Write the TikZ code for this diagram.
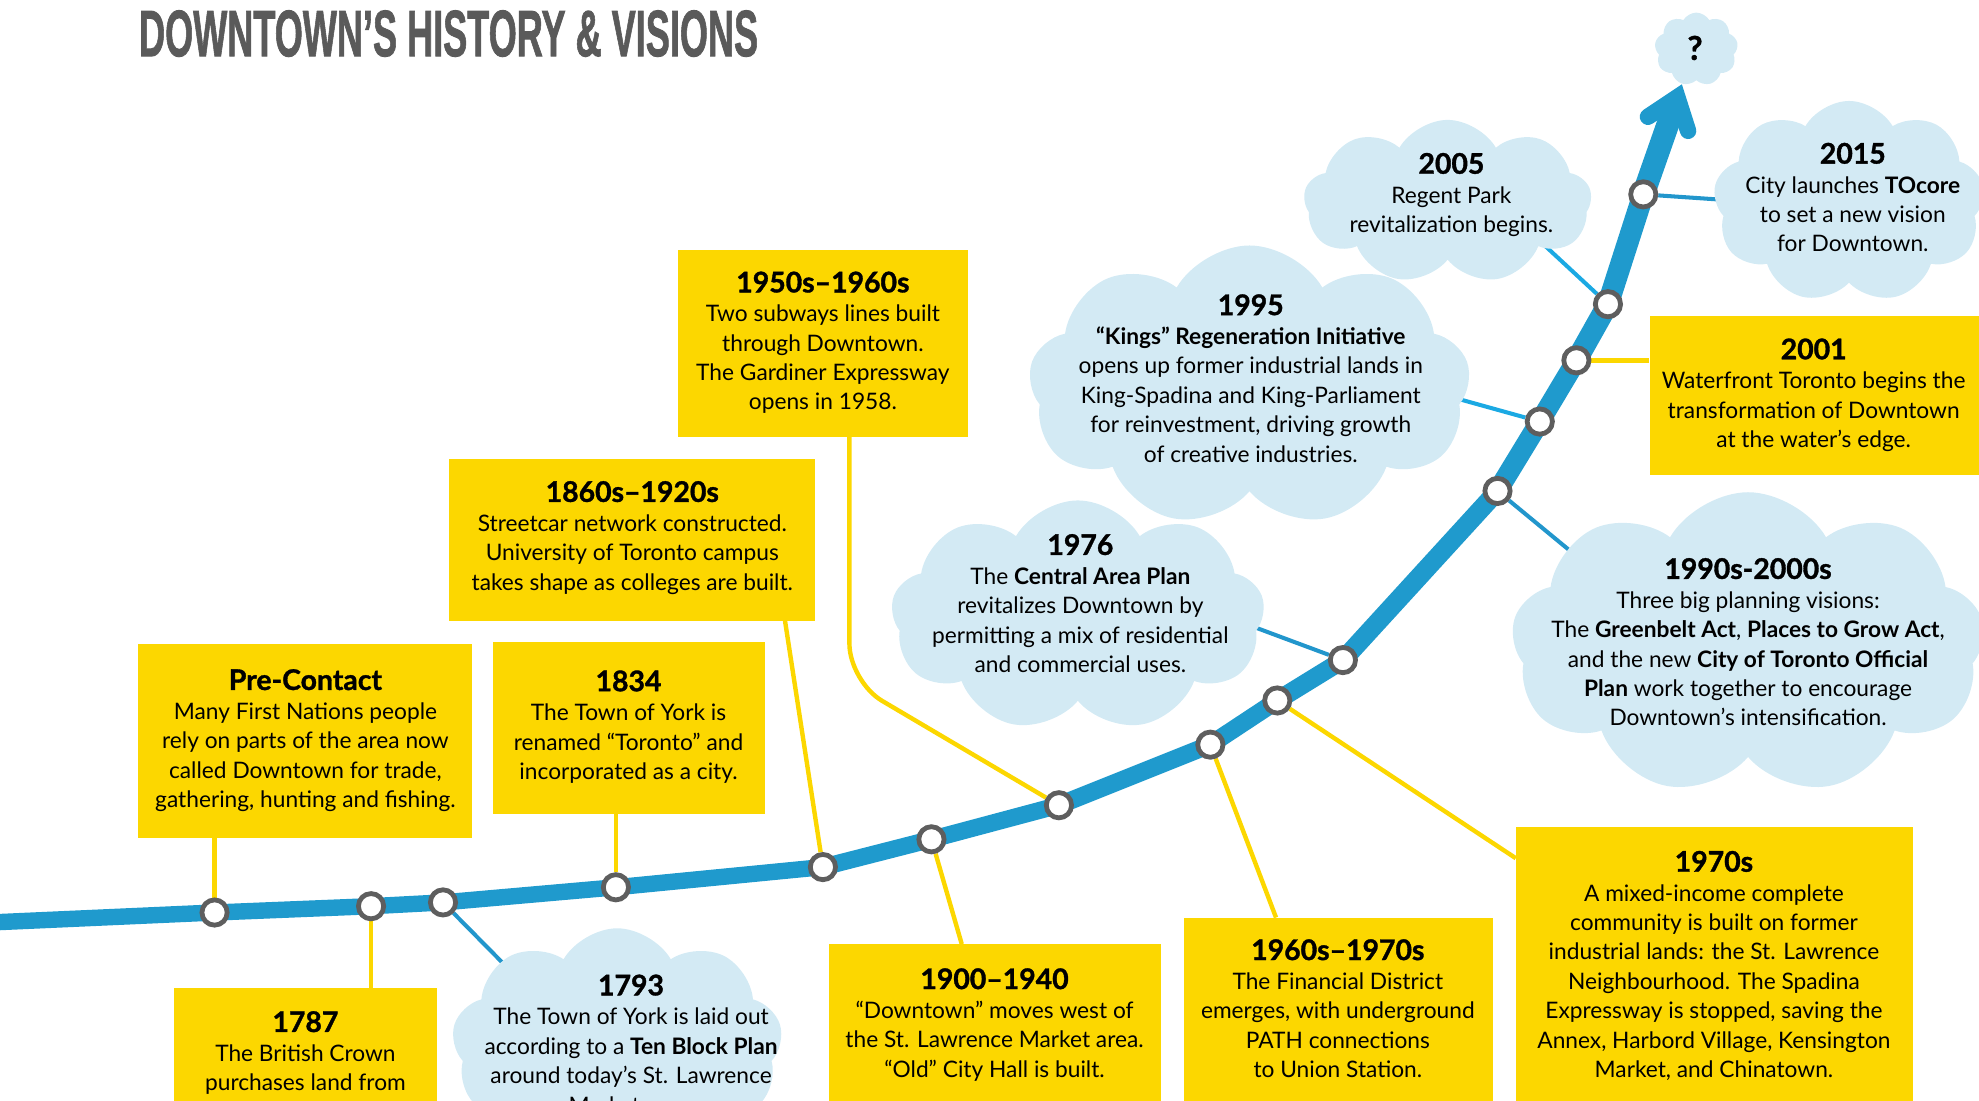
\documentclass[tikz,border=0pt]{standalone}
\usepackage{fontspec}
\setmainfont{Lato}
\newfontfamily\titlefont{Liberation Sans}[FakeBold=1.5]
\newfontfamily\hdfont{Lato}[FakeBold=1.2]
\usepackage{graphicx}
\usetikzlibrary{shapes.symbols,calc}
\definecolor{yboxc}{HTML}{FCD700}
\definecolor{cloudc}{HTML}{D3EAF4}
\definecolor{linec}{HTML}{1F9ACD}
\definecolor{conblue}{HTML}{2296CC}
\definecolor{conbright}{HTML}{1BA9E3}
\definecolor{dotgray}{HTML}{5E5E5E}
\definecolor{titlegray}{HTML}{5A5A5A}
\newcommand{\bodyfs}{\fontsize{18}{23.3}\selectfont}
\newcommand{\yrhead}[1]{{\hdfont\fontsize{22.5}{24}\selectfont\bfseries #1}}
\pgfdeclarelayer{bg}\pgfdeclarelayer{fg}\pgfsetlayers{bg,main,fg}
\begin{document}
\begin{tikzpicture}[x=1pt,y=-1pt,
  ybox/.style={fill=yboxc, draw=none, inner sep=0},
  cloudbox/.style={cloud, cloud puffs=9, cloud puff arc=120, cloud ignores aspect, fill=cloudc, draw=none, inner sep=0},
  txt/.style={align=center, inner sep=0, font=\bodyfs, text=black, anchor=north},
  ycon/.style={draw=yboxc, line width=3.5},
  bcon/.style={draw=conblue, line width=3.2},
  bconb/.style={draw=conbright, line width=3.2},
  dot/.style={circle, fill=white, draw=dotgray, line width=3.8, minimum size=20, inner sep=0},
  mainline/.style={draw=linec, line cap=round, line join=round}]
\useasboundingbox (0,0) rectangle (1568,872);
\clip (0,0) rectangle (1568,872);

% title
\node[anchor=north west, inner sep=0, text=titlegray] (title) at (110,8)
  {\scalebox{0.55}[1]{\titlefont\bfseries\fontsize{52}{52}\selectfont DOWNTOWN’S HISTORY \& VISIONS}};

% timeline points
\begin{pgfonlayer}{fg}
\node[dot] (c1) at (170,723) {};
\node[dot] (c2) at (294,718) {};
\node[dot] (c3) at (351,715) {};
\node[dot] (c4) at (488,703) {};
\node[dot] (c5) at (652,687) {};
\node[dot] (c6) at (738,665) {};
\node[dot] (c7) at (839,638) {};
\node[dot] (c8) at (959,590) {};
\node[dot] (c9) at (1012,555) {};
\node[dot] (c10) at (1064,523) {};
\node[dot] (c11) at (1186.5,389) {};
\node[dot] (c12) at (1220,334) {};
\node[dot] (c13) at (1249,285.5) {};
\node[dot] (c14) at (1274,241) {};
\node[dot] (c15) at (1302,154) {};
\end{pgfonlayer}
\coordinate (start) at (-10,731);
\coordinate (tip) at (1329,77);

% yellow boxes
\node[ybox, minimum width=230, minimum height=148] (b1950) at (652,272) {};
\node[ybox, minimum width=290, minimum height=128] (b1860) at (501,428) {};
\node[ybox, minimum width=265, minimum height=154] (bpre) at (241.5,587) {};
\node[ybox, minimum width=215, minimum height=136] (b1834) at (498.5,577) {};
\node[ybox, minimum width=208, minimum height=137] (b1787) at (242,851.5) {};
\node[ybox, minimum width=263, minimum height=152] (b1900) at (788.5,824) {};
\node[ybox, minimum width=245, minimum height=173] (b1960) at (1060.5,813.5) {};
\node[ybox, minimum width=315, minimum height=245] (b1970) at (1358.5,777.5) {};
\node[ybox, minimum width=293, minimum height=126] (b2001) at (1453.5,313) {};

% clouds
\node[cloudbox, minimum width=66, minimum height=58] (kq) at (1344,39) {};
\node[cloudbox, minimum width=228, minimum height=130] (k2005) at (1147,160) {};
\node[cloudbox, minimum width=215, minimum height=160] (k2015) at (1465,160) {};
\node[cloudbox, minimum width=350, minimum height=223] (k1995) at (990,306) {};
\node[cloudbox, minimum width=296, minimum height=183] (k1976) at (854,488) {};
\node[cloudbox, minimum width=375, minimum height=240] (k1990) at (1385,510) {};
\node[cloudbox, minimum width=262, minimum height=185] (k1793) at (489,828) {};

% connector end points
\coordinate (a1860) at (622,492);
\coordinate (a1950) at (673,346);
\coordinate (bend1950) at (673,540);
\coordinate (a1900) at (762,748);
\coordinate (a1960) at (1011,727);
\coordinate (a1970) at (1201,680);
\coordinate (e1793) at (425,790);
\coordinate (e1976) at (970,488);
\coordinate (e1995) at (1130,309);
\coordinate (e1990) at (1275,462);
\coordinate (e2005) at (1205,177);
\coordinate (e2015) at (1390,160);

\begin{pgfonlayer}{bg}
\draw[ycon] (c1) -- (c1 |- bpre.south);
\draw[ycon] (c2) -- (c2 |- b1787.north);
\draw[ycon] (c4) -- (c4 |- b1834.south);
\draw[ycon] (c5) -- (a1860);
\draw[ycon, rounded corners=30] (a1950) -- (bend1950) -- (c7);
\draw[ycon] (c6) -- (a1900);
\draw[ycon] (c8) -- (a1960);
\draw[ycon] (c9) -- (a1970);
\draw[ycon] (c13) -- (c13 -| b2001.west);
\draw[bcon] (c3) -- (e1793);
\draw[bcon] (c10) -- (e1976);
\draw[bconb] (c12) -- (e1995);
\draw[bcon] (c11) -- (e1990);
\draw[bconb] (c14) -- (e2005);
\draw[bcon] (c15) -- (e2015);
\end{pgfonlayer}

% main line, thickening towards the arrow
\draw[mainline, line width=13] (start) -- (c1.center) -- (c2.center) -- (c3.center) -- (c4.center) -- (c5.center);
\draw[mainline, line width=13.5] (c5.center) -- (c6.center) -- (c7.center);
\draw[mainline, line width=14] (c7.center) -- (c8.center) -- (c9.center);
\draw[mainline, line width=14.5] (c9.center) -- (c10.center);
\draw[mainline, line width=15] (c10.center) -- (c11.center);
\draw[mainline, line width=16] (c11.center) -- (c12.center) -- (c13.center);
\draw[mainline, line width=17] (c13.center) -- (c14.center) -- (c15.center);
\draw[mainline, line width=18, line cap=butt] (c15.center) -- ($(tip)!9pt!(c15.center)$);
\draw[mainline, line width=13, line join=miter]
  ($(tip)!28pt!37:(c15.center)$) -- (tip) -- ($(tip)!28pt!-37:(c15.center)$);

% texts
\node[txt] (t1950) at (652,215) {\yrhead{1950s–1960s}\\Two subways lines built\\through Downtown.\\The Gardiner Expressway\\opens in 1958.};
\node[txt] (t1860) at (501,381) {\yrhead{1860s–1920s}\\Streetcar network constructed.\\University of Toronto campus\\takes shape as colleges are built.};
\node[txt] (tpre) at (242,530) {\yrhead{Pre-Contact}\\Many First Nations people\\rely on parts of the area now\\called Downtown for trade,\\gathering, hunting and fishing.};
\node[txt] (t1834) at (498,531) {\yrhead{1834}\\The Town of York is\\renamed “Toronto” and\\incorporated as a city.};
\node[txt] (t1787) at (242,801) {\yrhead{1787}\\The British Crown\\purchases land from};
\node[txt] (t1793) at (500,772) {\yrhead{1793}\\The Town of York is laid out\\according to a \textbf{Ten Block Plan}\\around today’s St. Lawrence\\Market area.};
\node[txt] (t1900) at (788,767) {\yrhead{1900–1940}\\“Downtown” moves west of\\the St. Lawrence Market area.\\“Old” City Hall is built.};
\node[txt] (t1960) at (1060,744) {\yrhead{1960s–1970s}\\The Financial District\\emerges, with underground\\PATH connections\\to Union Station.};
\node[txt] (t1970) at (1358,674) {\yrhead{1970s}\\A mixed-income complete\\community is built on former\\industrial lands: the St. Lawrence\\Neighbourhood. The Spadina\\Expressway is stopped, saving the\\Annex, Harbord Village, Kensington\\Market, and Chinatown.};
\node[txt] (t1976) at (856,423) {\yrhead{1976}\\The \textbf{Central Area Plan}\\revitalizes Downtown by\\permitting a mix of residential\\and commercial uses.};
\node[txt] (t1995) at (991,233) {\yrhead{1995}\\\textbf{“Kings” Regeneration Initiative}\\opens up former industrial lands in\\King-Spadina and King-Parliament\\for reinvestment, driving growth\\of creative industries.};
\node[txt] (t1990) at (1385,442) {\yrhead{1990s-2000s}\\Three big planning visions:\\The \textbf{Greenbelt Act}, \textbf{Places to Grow Act},\\and the new \textbf{City of Toronto Official}\\\textbf{Plan} work together to encourage\\Downtown’s intensification.};
\node[txt] (t2001) at (1437,268) {\yrhead{2001}\\Waterfront Toronto begins the\\transformation of Downtown\\at the water’s edge.};
\node[txt] (t2005) at (1150,121) {\yrhead{2005}\\Regent Park\\revitalization begins.};
\node[txt] (t2015) at (1468,113) {\yrhead{2015}\\City launches \textbf{TOcore}\\to set a new vision\\for Downtown.};
\node[inner sep=0, font=\hdfont\fontsize{26}{26}\selectfont\bfseries] (tq) at (1343,38) {?};
\end{tikzpicture}
\end{document}
